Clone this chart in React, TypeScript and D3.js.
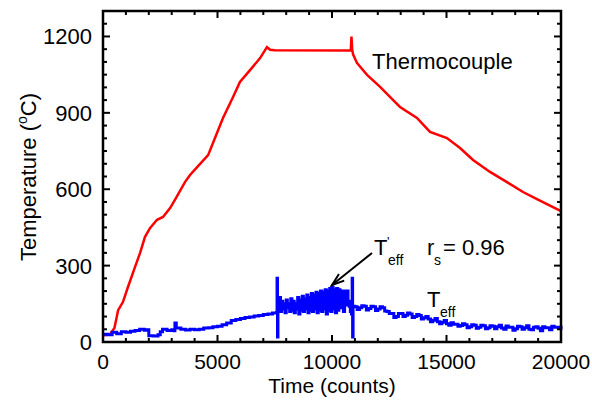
import React from 'react';
import * as d3 from 'd3';

// thermocouple reading (counts, degC)
const thermoT = [0, 300, 500, 660, 870, 1090, 1400, 1620, 1830, 2050, 2360, 2620, 2930, 3140, 3580, 3800, 4190, 4590, 4890, 5240, 5680, 5980, 6420, 6860, 7160, 7300, 7500, 10820, 10850, 10880, 10920, 11090, 11530, 12100, 12660, 12970, 13710, 14280, 15020, 15590, 16160, 16900, 17640, 18340, 18950, 20000];
const thermoV = [25, 30, 55, 125, 157, 216, 295, 350, 412, 447, 480, 491, 526, 558, 628, 656, 695, 734, 801, 880, 962, 1021, 1068, 1115, 1158, 1148, 1146, 1145, 1200, 1150, 1130, 1096, 1049, 1002, 951, 923, 880, 825, 801, 762, 715, 668, 628, 589, 561, 514];

// T_eff reading (counts, degC)
const effT = [0, 200, 400, 600, 800, 1000, 1200, 1400, 1600, 1800, 1900, 2000, 2200, 2400, 2500, 2600, 2800, 3000, 3100, 3140, 3200, 3400, 3600, 3800, 4000, 4200, 4400, 4600, 4800, 5000, 5200, 5400, 5600, 5800, 6000, 6200, 6400, 6600, 6800, 7000, 7200, 7400, 7580, 7600, 7620, 7640,
  7650, 7700, 7750, 7800, 7850, 7900, 7950, 8000, 8050, 8100, 8150, 8200, 8250, 8300, 8350, 8400, 8450, 8500, 8550, 8600, 8650, 8700, 8750, 8800, 8850, 8900, 8950, 9000, 9050, 9100, 9150, 9200, 9250, 9300, 9350, 9400, 9450, 9500, 9550, 9600, 9650, 9700, 9750, 9800, 9850, 9900, 9950, 10000, 10050, 10100, 10150, 10200, 10250, 10300, 10350, 10400, 10450, 10500, 10550, 10600, 10650, 10700, 10750, 10800, 10850, 10880, 10900, 10920,
  11000, 11100, 11200, 11300, 11400, 11500, 11600, 11700, 11800, 11900, 12000, 12100, 12200, 12300, 12400, 12500, 12600, 12700, 12800, 12900, 13000, 13100, 13200, 13300, 13400, 13500, 13600, 13700, 13800, 13900, 14000, 14100, 14200, 14300, 14400, 14500, 14600, 14700, 14800, 14900, 15000, 15100, 15200, 15300, 15400, 15500, 15600, 15700, 15800, 15900, 16000, 16100, 16200, 16300, 16400, 16500, 16600, 16700, 16800, 16900, 17000, 17100, 17200, 17300, 17400, 17500, 17600, 17700, 17800, 17900, 18000, 18100, 18200, 18300, 18400, 18500, 18600, 18700, 18800, 18900, 19000, 19100, 19200, 19300, 19400, 19500, 19600, 19700, 19800, 19900, 20000];
const effV = [30, 28, 38, 32, 40, 38, 42, 45, 50, 46, 48, 25, 24, 28, 40, 50, 45, 48, 44, 75, 55, 50, 47, 50, 48, 50, 55, 56, 60, 62, 68, 75, 84, 88, 92, 96, 98, 102, 104, 108, 110, 114, 116, 250, 20, 150,
  140, 175, 120, 160, 130, 150, 115, 165, 135, 150, 120, 170, 125, 160, 115, 150, 130, 175, 110, 165, 125, 180, 120, 170, 130, 185, 115, 175, 125, 190, 120, 185, 130, 195, 115, 190, 125, 200, 120, 195, 130, 205, 110, 200, 125, 210, 120, 215, 130, 205, 115, 210, 125, 205, 135, 200, 150, 120, 200, 145, 200, 160, 140, 120, 110, 250, 20, 140,
  138, 128, 135, 142, 140, 126, 132, 140, 138, 124, 130, 138, 135, 122, 120, 112, 112, 96, 100, 112, 112, 100, 105, 114, 110, 96, 100, 108, 104, 90, 95, 100, 90, 80, 85, 92, 80, 72, 78, 84, 72, 66, 76, 70, 70, 62, 65, 72, 68, 56, 60, 68, 66, 54, 58, 66, 64, 52, 56, 64, 62, 52, 60, 66, 55, 50, 63, 58, 58, 46, 52, 62, 60, 50, 56, 64, 50, 48, 58, 60, 54, 44, 60, 56, 56, 48, 62, 58, 58, 54, 64];

const xTicks = [0, 5000, 10000, 15000, 20000];
const yTicks = [0, 300, 600, 900, 1200];

export default function App() {
  const W = 592, H = 401;
  const left = 103, right = 561, top = 11, bottom = 342;
  const FONT = 'Liberation Sans, Arial, sans-serif';

  const x = d3.scaleLinear().domain([0, 20000]).range([left, right]);
  const y = d3.scaleLinear().domain([0, 1300]).range([bottom, top]);

  const thermoPath = d3.line<number>()
    .x((_, i) => x(thermoT[i]))
    .y(d => y(d))(thermoV);
  const effPath = d3.line<number>()
    .x((_, i) => x(effT[i]))
    .y(d => y(d))
    .curve(d3.curveStepAfter)(effV);

  // minor ticks
  const xMinor = d3.range(0, 20001, 1000);
  const yMinor = d3.range(0, 1301, 50);
  const MAJ = 7, MIN = 4;

  // arrow from label to band
  const ax1 = 372, ay1 = 253, ax2 = 332, ay2 = 285;
  const ang = Math.atan2(ay2 - ay1, ax2 - ax1);
  const hl = 13, ha = 0.33;
  const h1 = [ax2 - hl * Math.cos(ang - ha), ay2 - hl * Math.sin(ang - ha)];
  const h2 = [ax2 - hl * Math.cos(ang + ha), ay2 - hl * Math.sin(ang + ha)];

  return (
    <svg width={W} height={H} style={{ position: 'absolute', left: 0, top: 0, background: '#fff' }} fontFamily={FONT}>
      <rect width={W} height={H} fill="#fff" />
      <path d={thermoPath || ''} fill="none" stroke="#ff0000" strokeWidth={2.5} />
      <path d={effPath || ''} fill="none" stroke="#0000ff" strokeWidth={3} />

      {/* frame */}
      <rect x={left} y={top} width={right - left} height={bottom - top} fill="none" stroke="#000" strokeWidth={2.5} />
      {xMinor.map(t => {
        const len = t % 5000 === 0 ? MAJ : MIN;
        return (
          <g key={'x' + t}>
            <line x1={x(t)} x2={x(t)} y1={bottom} y2={bottom - len} stroke="#000" strokeWidth={2} />
            <line x1={x(t)} x2={x(t)} y1={top} y2={top + len} stroke="#000" strokeWidth={2} />
          </g>
        );
      })}
      {yMinor.map(v => {
        const len = v % 300 === 0 ? MAJ : MIN;
        return (
          <g key={'y' + v}>
            <line x1={left} x2={left + len} y1={y(v)} y2={y(v)} stroke="#000" strokeWidth={2} />
            <line x1={right} x2={right - len} y1={y(v)} y2={y(v)} stroke="#000" strokeWidth={2} />
          </g>
        );
      })}

      {xTicks.map(t => (
        <text key={'xl' + t} x={x(t)} y={369} textAnchor="middle" fontSize={21}>{t}</text>
      ))}
      {yTicks.map(v => (
        <text key={'yl' + v} x={92} y={y(v) + 8} textAnchor="end" fontSize={22}>{v}</text>
      ))}

      <text x={(left + right) / 2} y={393} textAnchor="middle" fontSize={21}>Time (counts)</text>
      <text transform="translate(36,177) rotate(-90)" textAnchor="middle" fontSize={22}>
        Temperature (<tspan fontSize={14} dy={-9}>o</tspan><tspan dy={9}>C)</tspan>
      </text>

      <text x={372} y={69} fontSize={22}>Thermocouple</text>

      <text x={374} y={255} fontSize={22}>T</text>
      <text x={387} y={246} fontSize={13}>'</text>
      <text x={388} y={265} fontSize={14}>eff</text>

      <text x={427} y={255} fontSize={22}>r</text>
      <text x={434} y={265} fontSize={14}>s</text>
      <text x={443} y={255} fontSize={22}>= 0.96</text>

      <text x={427} y={307} fontSize={22}>T</text>
      <text x={440} y={317} fontSize={14}>eff</text>

      <line x1={ax1} y1={ay1} x2={ax2} y2={ay2} stroke="#000" strokeWidth={2} />
      <polyline points={`${h1[0]},${h1[1]} ${ax2},${ay2} ${h2[0]},${h2[1]}`} fill="none" stroke="#000" strokeWidth={2} />
    </svg>
  );
}
